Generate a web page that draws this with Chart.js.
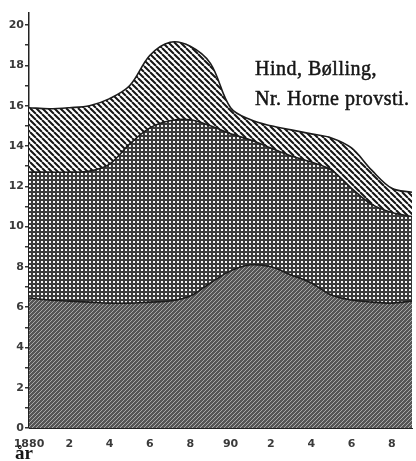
<!DOCTYPE html>
<html>
<head>
<meta charset="utf-8">
<script src="https://cdn.jsdelivr.net/npm/chart.js@4"></script>
<style>
  html, body { margin: 0; padding: 0; background: #fff; }
  #wrap { position: relative; width: 416px; height: 461px; }
</style>
</head>
<body>
<div id="wrap"><canvas id="chart" width="416" height="461"></canvas></div>
<script>
// years on the x axis
const years = [1880, 1881, 1882, 1883, 1884, 1885, 1886, 1887, 1888, 1889,
               1890, 1891, 1892, 1893, 1894, 1895, 1896, 1897, 1898, 1899];

// upper edge of each band (stacked totals)
const bottomBand = [6.45, 6.35, 6.3, 6.25, 6.2, 6.2, 6.25, 6.3, 6.55, 7.2,
                    7.8, 8.1, 8.0, 7.6, 7.2, 6.6, 6.35, 6.25, 6.2, 6.3];
const middleBand = [12.7, 12.7, 12.7, 12.75, 13.1, 14.1, 14.9, 15.25, 15.3, 15.0,
                    14.6, 14.3, 13.9, 13.5, 13.2, 12.8, 11.9, 11.1, 10.7, 10.5];
const topBand    = [15.9, 15.85, 15.9, 16.0, 16.35, 17.0, 18.5, 19.15, 18.95, 18.1,
                    15.9, 15.3, 15.0, 14.8, 14.6, 14.4, 13.9, 12.8, 11.9, 11.7];

const yTicks = [0, 2, 4, 6, 8, 10, 12, 14, 16, 18, 20];
const yMinorTicks = [1, 3, 5, 7, 9, 11, 13, 15, 17, 19];
const xTicks = [1880, 1882, 1884, 1886, 1888, 1890, 1892, 1894, 1896, 1898];
const xTickLabels = ['1880', '2', '4', '6', '8', '90', '2', '4', '6', '8'];

const titleLines = ['Hind, Bølling,', 'Nr. Horne provsti.'];
const axisWord = 'år';

function makePattern(size, draw) {
  const c = document.createElement('canvas');
  c.width = c.height = size;
  const g = c.getContext('2d');
  draw(g, size);
  return g.createPattern(c, 'repeat');
}

// "\" stripes for the top band
const stripePattern = makePattern(6, (g, s) => {
  g.fillStyle = '#fff';
  g.fillRect(0, 0, s, s);
  g.strokeStyle = '#151515';
  g.lineWidth = 2;
  g.beginPath();
  [-s, 0, s].forEach(o => { g.moveTo(o, 0); g.lineTo(o + s, s); });
  g.stroke();
});

// white dots on dark for the middle band
const dotPattern = makePattern(4, (g, s) => {
  g.fillStyle = '#3a3a3a';
  g.fillRect(0, 0, s, s);
  g.fillStyle = '#f6f6f6';
  g.fillRect(1, 1, 2, 2);
});

// fine "/" hatching for the bottom band
const hatchPattern = makePattern(4, (g, s) => {
  g.fillStyle = '#565656';
  g.fillRect(0, 0, s, s);
  g.strokeStyle = '#a8a8a8';
  g.lineWidth = 1;
  g.beginPath();
  [-s, 0, s].forEach(o => { g.moveTo(o, s); g.lineTo(o + s, 0); });
  g.stroke();
});

const toPoints = arr => years.map((y, i) => ({ x: y, y: arr[i] }));

const textPlugin = {
  id: 'texts',
  afterDraw(chart) {
    const ctx = chart.ctx;
    ctx.save();
    ctx.fillStyle = '#161616';
    ctx.strokeStyle = '#161616';
    ctx.lineWidth = 0.5;
    ctx.textAlign = 'left';
    ctx.textBaseline = 'alphabetic';
    ctx.font = '20px "Liberation Serif", serif';
    ctx.letterSpacing = '0.5px';
    titleLines.forEach((t, i) => {
      ctx.fillText(t, 255, 75 + i * 30);
      ctx.strokeText(t, 255, 75 + i * 30);
    });
    ctx.letterSpacing = '0px';
    ctx.font = 'bold 19px "Liberation Serif", serif';
    ctx.fillText(axisWord, 15, 459);
    ctx.restore();
  }
};

const common = { pointRadius: 0, borderColor: '#1c1c1c', borderWidth: 1.6, tension: 0.35 };

new Chart(document.getElementById('chart'), {
  type: 'line',
  data: {
    datasets: [
      { ...common, data: toPoints(bottomBand), fill: 'origin', backgroundColor: hatchPattern },
      { ...common, data: toPoints(middleBand), fill: '-1', backgroundColor: dotPattern },
      { ...common, data: toPoints(topBand), fill: '-1', backgroundColor: stripePattern }
    ]
  },
  options: {
    responsive: false,
    animation: false,
    layout: { padding: { left: 0, right: 4, top: 13, bottom: 0 } },
    plugins: { legend: { display: false }, tooltip: { enabled: false } },
    scales: {
      x: {
        type: 'linear',
        min: 1880,
        max: 1899,
        afterFit: s => { s.height = 33; },
        afterBuildTicks: s => { s.ticks = xTicks.map(v => ({ value: v })); },
        grid: { display: false },
        border: { display: true, color: '#222', width: 1 },
        ticks: {
          autoSkip: false,
          maxRotation: 0,
          padding: 2,
          color: '#3a3a3a',
          font: { family: 'DejaVu Sans', size: 11, weight: 'bold' },
          callback: v => xTickLabels[xTicks.indexOf(v)] || ''
        }
      },
      y: {
        min: 0,
        max: 20.6,
        afterFit: s => { s.width = 29; },
        afterBuildTicks: s => {
          s.ticks = yTicks.concat(yMinorTicks).sort((a, b) => a - b).map(v => ({ value: v }));
        },
        grid: { drawOnChartArea: false, drawTicks: true, tickLength: 4, color: '#333', lineWidth: 1.5 },
        border: { display: true, color: '#222', width: 1.5 },
        ticks: {
          autoSkip: false,
          padding: 1,
          color: '#3a3a3a',
          font: { family: 'DejaVu Sans', size: 11, weight: 'bold' },
          callback: v => yTicks.includes(v) ? String(v) : ''
        }
      }
    }
  },
  plugins: [textPlugin]
});
</script>
</body>
</html>
